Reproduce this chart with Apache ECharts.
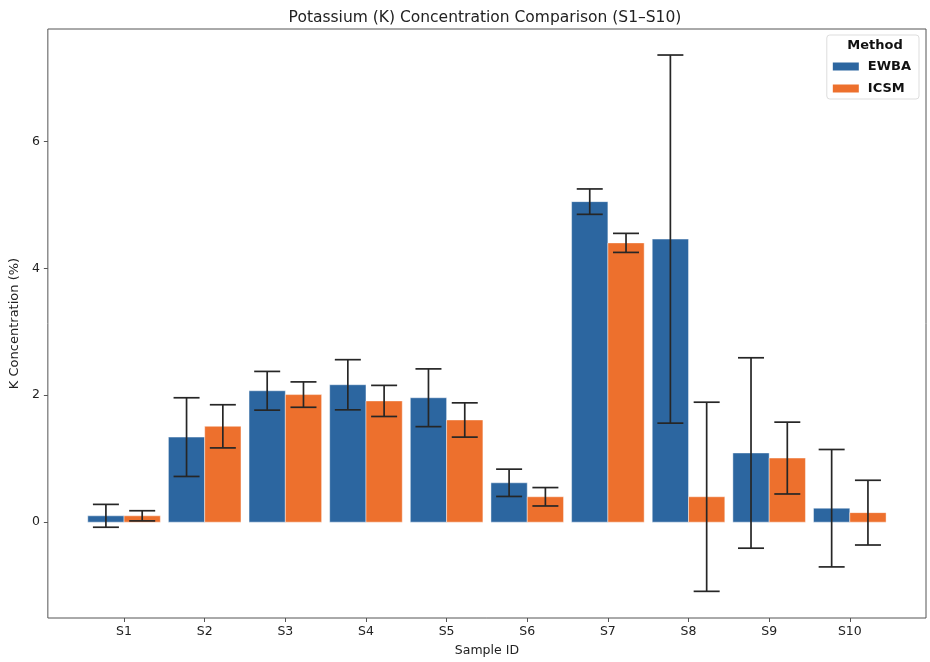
<!DOCTYPE html>
<html>
<head>
<meta charset="utf-8">
<script src="https://cdn.jsdelivr.net/npm/echarts@6/dist/echarts.min.js"></script>
<style>
  html, body { margin: 0; padding: 0; background: #fff; }
  #chart { width: 930px; height: 662px; }
</style>
</head>
<body>
<div id="chart"></div>
<script>
// Sample IDs and measured potassium concentrations (%) with their error half-widths
const samples = ['S1', 'S2', 'S3', 'S4', 'S5', 'S6', 'S7', 'S8', 'S9', 'S10'];
const ewba    = [0.10, 1.34, 2.07, 2.165, 1.96, 0.62, 5.05, 4.46, 1.09, 0.22];
const ewbaErr = [0.18, 0.62, 0.305, 0.395, 0.455, 0.215, 0.20, 2.90, 1.50, 0.925];
const icsm    = [0.10, 1.51, 2.01, 1.91, 1.61, 0.40, 4.40, 0.40, 1.01, 0.15];
const icsmErr = [0.08, 0.34, 0.20, 0.245, 0.27, 0.145, 0.15, 1.49, 0.566, 0.51];
const yTicks  = [0, 2, 4, 6];

const BLUE = '#2c66a0';
const ORANGE = '#ed702d';
const BAR_W = 0.45;          // bar width in category units
const CAP = 13;              // error-bar cap half-width, px
const FONT = 'DejaVu Sans';

const chart = echarts.init(document.getElementById('chart'), null, { renderer: 'canvas' });

function barRenderer(side) {
  return function (params, api) {
    const x = api.value(0), y = api.value(1);
    const x0 = side < 0 ? x - BAR_W : x;
    const p0 = api.coord([x0, y]);
    const p1 = api.coord([x0 + BAR_W, 0]);
    return {
      type: 'rect',
      shape: { x: p0[0], y: Math.min(p0[1], p1[1]), width: p1[0] - p0[0], height: Math.abs(p1[1] - p0[1]) },
      style: { fill: api.visual('color'), stroke: 'rgba(255,255,255,0.55)', lineWidth: 0.8 }
    };
  };
}

function errRenderer(params, api) {
  const x = api.value(0), v = api.value(1), e = api.value(2);
  const top = api.coord([x, v + e]);
  const bot = api.coord([x, v - e]);
  const st = { stroke: '#262626', lineWidth: 1.7 };
  return {
    type: 'group',
    children: [
      { type: 'line', shape: { x1: top[0], y1: top[1], x2: bot[0], y2: bot[1] }, style: st },
      { type: 'line', shape: { x1: top[0] - CAP, y1: top[1], x2: top[0] + CAP, y2: top[1] }, style: st },
      { type: 'line', shape: { x1: bot[0] - CAP, y1: bot[1], x2: bot[0] + CAP, y2: bot[1] }, style: st }
    ]
  };
}

const idx = samples.map((_, i) => i);
const ewbaData = idx.map(i => [i, ewba[i]]);
const icsmData = idx.map(i => [i, icsm[i]]);
const errData = idx.map(i => [i - BAR_W / 2, ewba[i], ewbaErr[i]])
  .concat(idx.map(i => [i + BAR_W / 2, icsm[i], icsmErr[i]]));

const option = {
  backgroundColor: '#ffffff',
  animation: false,
  textStyle: { fontFamily: FONT },
  grid: {
    left: 45, right: 4, top: 29, bottom: 41.5,
    show: true, borderColor: '#555', borderWidth: 1, backgroundColor: 'transparent'
  },
  xAxis: {
    type: 'value',
    min: -0.945, max: 9.945,
    name: 'Sample ID', nameLocation: 'middle', nameGap: 26,
    nameTextStyle: { fontFamily: FONT, fontSize: 12.5, color: '#222' },
    axisLine: { show: false, onZero: false },
    splitLine: { show: false },
    axisTick: { show: true, customValues: idx, length: 4, lineStyle: { color: '#555' } },
    axisLabel: {
      customValues: idx, margin: 7,
      fontFamily: FONT, fontSize: 12.5, color: '#222',
      formatter: v => samples[Math.round(v)]
    }
  },
  yAxis: {
    type: 'value',
    min: -1.51, max: 7.77,
    name: 'K Concentration (%)', nameLocation: 'middle', nameGap: 21,
    nameTextStyle: { fontFamily: FONT, fontSize: 13, color: '#222' },
    axisLine: { show: false, onZero: false },
    splitLine: { show: false },
    axisTick: { show: true, customValues: yTicks, length: 4, lineStyle: { color: '#555' } },
    axisLabel: { customValues: yTicks, margin: 8, fontFamily: FONT, fontSize: 12.5, color: '#222' }
  },
  legend: {
    orient: 'vertical',
    right: 11, top: 35,
    padding: [25, 8, 4, 6],
    backgroundColor: '#fff',
    borderColor: '#ddd', borderWidth: 1, borderRadius: 3,
    itemWidth: 26, itemHeight: 8, itemGap: 9,
    icon: 'rect',
    textStyle: { fontFamily: FONT, fontSize: 13, fontWeight: 'bold', color: '#111', padding: [0, 0, 0, 4] },
    data: ['EWBA', 'ICSM']
  },
  graphic: [
    {
      type: 'text', x: 485, y: 10,
      style: { text: 'Potassium (K) Concentration Comparison (S1–S10)', fontFamily: FONT, fontSize: 15.5, fill: '#222', textAlign: 'center' }
    },
    {
      type: 'text', x: 875, y: 39, z: 100,
      style: { text: 'Method', fontFamily: FONT, fontSize: 13, fontWeight: 'bold', fill: '#111', textAlign: 'center' }
    }
  ],
  series: [
    { name: 'EWBA', type: 'custom', renderItem: barRenderer(-1), data: ewbaData, itemStyle: { color: BLUE }, encode: { x: 0, y: 1 }, z: 2 },
    { name: 'ICSM', type: 'custom', renderItem: barRenderer(1), data: icsmData, itemStyle: { color: ORANGE }, encode: { x: 0, y: 1 }, z: 2 },
    { name: 'err', type: 'custom', renderItem: errRenderer, data: errData, encode: { x: 0, y: 1 }, z: 5, silent: true }
  ]
};

chart.setOption(option);
</script>
</body>
</html>
